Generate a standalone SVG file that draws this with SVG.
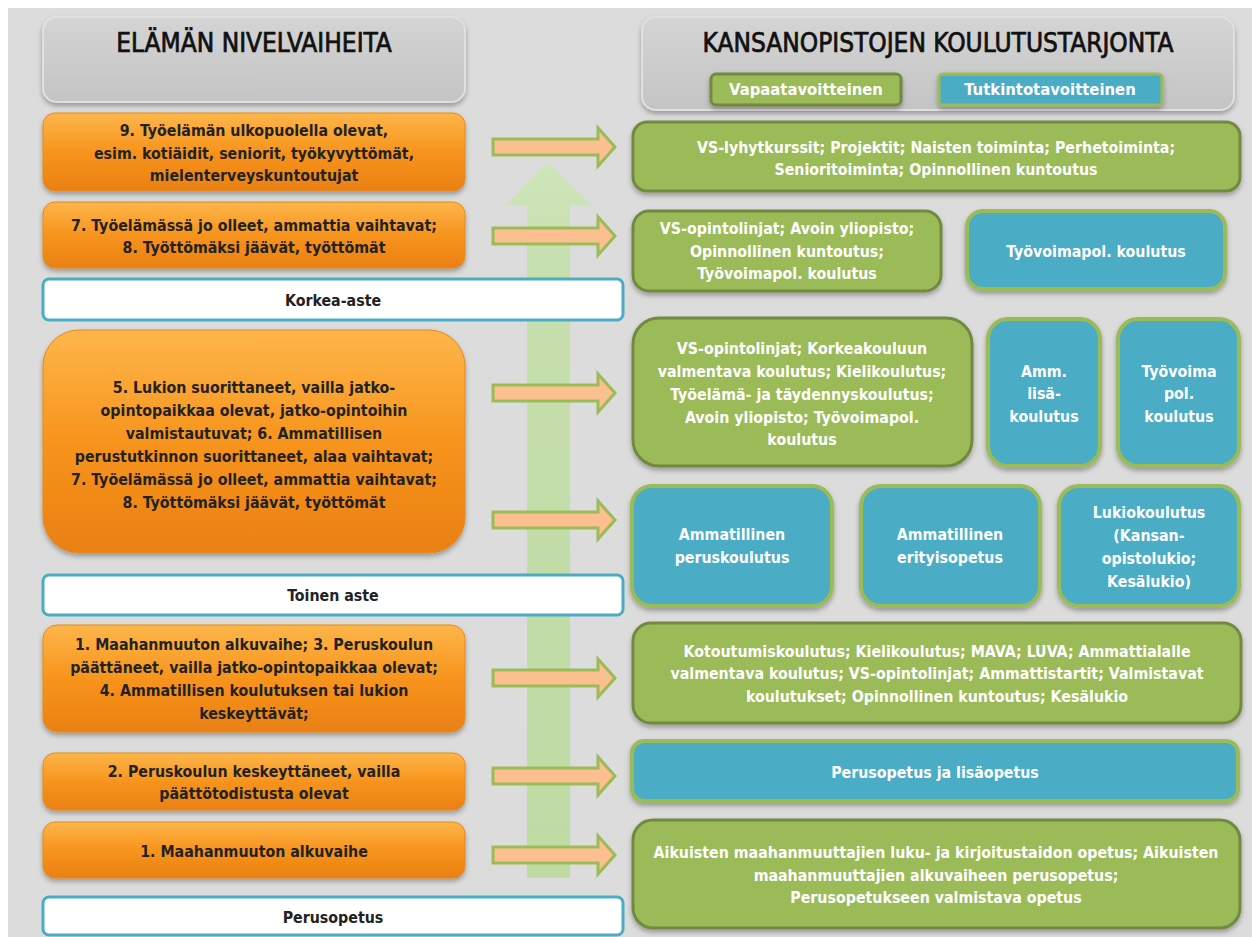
<svg xmlns="http://www.w3.org/2000/svg" width="1252" height="937" viewBox="0 0 1252 937">
<defs>
<linearGradient id="gOr" x1="0" y1="0" x2="0" y2="1">
<stop offset="0" stop-color="#fdb64a"/><stop offset="0.5" stop-color="#f7941d"/><stop offset="1" stop-color="#ea8012"/>
</linearGradient>
<linearGradient id="gHd" x1="0" y1="0" x2="0" y2="1">
<stop offset="0" stop-color="#d4d4d4"/><stop offset="1" stop-color="#c4c4c4"/>
</linearGradient>
<linearGradient id="gBig" x1="0" y1="0" x2="0" y2="1">
<stop offset="0" stop-color="#cfe5bb"/><stop offset="0.15" stop-color="#c6dfae"/><stop offset="1" stop-color="#bfdaa3"/>
</linearGradient>
<filter id="sh" x="-5%" y="-10%" width="110%" height="130%">
<feDropShadow dx="0" dy="3" stdDeviation="2.5" flood-color="#000" flood-opacity="0.3"/>
</filter>
<path id="arr" d="M493,-8 H598 V-19 L615,0 L598,19 V8 H493 Z"/>
<style>
text{font-family:"Liberation Sans Narrow","DejaVu Sans Condensed","Liberation Sans",sans-serif;font-weight:bold;text-anchor:middle;}
.t{font-size:15.8px;}
.dk{fill:#222;}
.wt{fill:#fff;}
.hd{font-size:26px;font-weight:normal;fill:#111;stroke:#111;stroke-width:0.7;}
.or{fill:url(#gOr);stroke:#e58a1c;stroke-width:1;filter:url(#sh);}
.gr{fill:#9bbb59;stroke:#71893f;stroke-width:3;filter:url(#sh);}
.bl{fill:#4bacc6;stroke:#9bbb59;stroke-width:4;filter:url(#sh);}
.wb{fill:#fff;stroke:#4bacc6;stroke-width:3;}
.head{fill:url(#gHd);stroke:#e0e0e0;stroke-width:2;filter:url(#sh);}
.sa{fill:#fbbf90;stroke:#9bbb59;stroke-width:3;}
</style>
</defs>
<rect x="0" y="0" width="1252" height="937" fill="#fff"/>
<rect x="8" y="8" width="1244" height="929" fill="#dcdcdc"/>

<g id="bigArrow">
<path d="M548,162 L591,205 H570 V878 H527 V205 H506 Z" fill="url(#gBig)"/>
</g>

<g id="hdrLeft">
<rect class="head" x="43" y="17" width="422" height="85" rx="14"/>
<text class="hd" x="254" y="52">ELÄMÄN NIVELVAIHEITA</text>
</g>
<g id="hdrRight">
<rect class="head" x="642" y="17" width="592" height="93" rx="14"/>
<text class="hd" x="938" y="52">KANSANOPISTOJEN KOULUTUSTARJONTA</text>
<g id="legendVapaa">
<rect x="711" y="74" width="190" height="31" rx="5" fill="#9bbb59" stroke="#71893f" stroke-width="3" filter="url(#sh)"/>
<text class="t wt" x="806" y="95" style="font-size:16.5px">Vapaatavoitteinen</text>
</g>
<g id="legendTutkinto">
<rect x="939" y="74" width="223" height="31" rx="4" fill="#4bacc6" stroke="#9bbb59" stroke-width="3" filter="url(#sh)"/>
<text class="t wt" x="1050" y="95" style="font-size:16.5px">Tutkintotavoitteinen</text>
</g>
</g>

<g id="o9">
<rect class="or" x="43" y="113" width="422" height="78" rx="12"/>
<text class="t dk" x="254" y="136">9. Työelämän ulkopuolella olevat,</text>
<text class="t dk" x="254" y="159">esim. kotiäidit, seniorit, työkyvyttömät,</text>
<text class="t dk" x="254" y="181">mielenterveyskuntoutujat</text>
</g>
<g id="o78">
<rect class="or" x="43" y="202" width="422" height="66" rx="12"/>
<text class="t dk" x="254" y="231">7. Työelämässä jo olleet, ammattia vaihtavat;</text>
<text class="t dk" x="254" y="253">8. Työttömäksi jäävät, työttömät</text>
</g>
<g id="korkea">
<rect class="wb" x="43" y="279" width="580" height="41" rx="6"/>
<text class="t dk" x="333" y="306">Korkea-aste</text>
</g>
<g id="o5678">
<rect class="or" x="43" y="330" width="422" height="223" rx="36"/>
<text class="t dk" x="254" y="393">5. Lukion suorittaneet, vailla jatko-</text>
<text class="t dk" x="254" y="416">opintopaikkaa olevat, jatko-opintoihin</text>
<text class="t dk" x="254" y="439">valmistautuvat; 6. Ammatillisen</text>
<text class="t dk" x="254" y="462">perustutkinnon suorittaneet, alaa vaihtavat;</text>
<text class="t dk" x="254" y="485">7. Työelämässä jo olleet, ammattia vaihtavat;</text>
<text class="t dk" x="254" y="508">8. Työttömäksi jäävät, työttömät</text>
</g>
<g id="toinen">
<rect class="wb" x="43" y="575" width="580" height="40" rx="6"/>
<text class="t dk" x="333" y="601">Toinen aste</text>
</g>
<g id="o134">
<rect class="or" x="43" y="625" width="422" height="107" rx="14"/>
<text class="t dk" x="254" y="650">1. Maahanmuuton alkuvaihe;  3. Peruskoulun</text>
<text class="t dk" x="254" y="673">päättäneet, vailla jatko-opintopaikkaa olevat;</text>
<text class="t dk" x="254" y="696">4. Ammatillisen koulutuksen tai lukion</text>
<text class="t dk" x="254" y="719">keskeyttävät;</text>
</g>
<g id="o2">
<rect class="or" x="43" y="753" width="422" height="57" rx="12"/>
<text class="t dk" x="254" y="777">2. Peruskoulun keskeyttäneet, vailla</text>
<text class="t dk" x="254" y="799">päättötodistusta olevat</text>
</g>
<g id="o1">
<rect class="or" x="43" y="822" width="422" height="56" rx="12"/>
<text class="t dk" x="254" y="857">1. Maahanmuuton alkuvaihe</text>
</g>
<g id="perus">
<rect class="wb" x="43" y="897" width="580" height="38" rx="6"/>
<text class="t dk" x="333" y="923">Perusopetus</text>
</g>

<g id="g1">
<rect class="gr" x="633" y="122" width="607" height="69" rx="14"/>
<text class="t wt" x="936" y="153">VS-lyhytkurssit; Projektit; Naisten toiminta; Perhetoiminta;</text>
<text class="t wt" x="936" y="175">Senioritoiminta; Opinnollinen kuntoutus</text>
</g>
<g id="g2">
<rect class="gr" x="633" y="211" width="308" height="80" rx="16"/>
<text class="t wt" x="787" y="234">VS-opintolinjat; Avoin yliopisto;</text>
<text class="t wt" x="787" y="257">Opinnollinen kuntoutus;</text>
<text class="t wt" x="787" y="279">Työvoimapol. koulutus</text>
</g>
<g id="b1">
<rect class="bl" x="967" y="211" width="258" height="78" rx="16"/>
<text class="t wt" x="1096" y="257">Työvoimapol. koulutus</text>
</g>
<g id="g3">
<rect class="gr" x="633" y="318" width="339" height="148" rx="26"/>
<text class="t wt" x="802" y="354">VS-opintolinjat; Korkeakouluun</text>
<text class="t wt" x="802" y="377">valmentava koulutus;  Kielikoulutus;</text>
<text class="t wt" x="802" y="400">Työelämä- ja täydennyskoulutus;</text>
<text class="t wt" x="802" y="423">Avoin yliopisto; Työvoimapol.</text>
<text class="t wt" x="802" y="445">koulutus</text>
</g>
<g id="bAmm">
<rect class="bl" x="988" y="319" width="112" height="147" rx="20"/>
<text class="t wt" x="1044" y="377">Amm.</text>
<text class="t wt" x="1044" y="399">lisä-</text>
<text class="t wt" x="1044" y="422">koulutus</text>
</g>
<g id="bTyo">
<rect class="bl" x="1118" y="319" width="121" height="147" rx="20"/>
<text class="t wt" x="1179" y="377">Työvoima</text>
<text class="t wt" x="1179" y="399">pol.</text>
<text class="t wt" x="1179" y="422">koulutus</text>
</g>
<g id="bPerus">
<rect class="bl" x="632" y="486" width="200" height="120" rx="20"/>
<text class="t wt" x="732" y="540">Ammatillinen</text>
<text class="t wt" x="732" y="563">peruskoulutus</text>
</g>
<g id="bErit">
<rect class="bl" x="861" y="486" width="179" height="120" rx="20"/>
<text class="t wt" x="950" y="540">Ammatillinen</text>
<text class="t wt" x="950" y="563">erityisopetus</text>
</g>
<g id="bLukio">
<rect class="bl" x="1059" y="486" width="180" height="120" rx="20"/>
<text class="t wt" x="1149" y="518">Lukiokoulutus</text>
<text class="t wt" x="1149" y="541">(Kansan-</text>
<text class="t wt" x="1149" y="564">opistolukio;</text>
<text class="t wt" x="1149" y="587">Kesälukio)</text>
</g>
<g id="g4">
<rect class="gr" x="633" y="623" width="608" height="100" rx="18"/>
<text class="t wt" x="937" y="657">Kotoutumiskoulutus; Kielikoulutus; MAVA; LUVA; Ammattialalle</text>
<text class="t wt" x="937" y="679">valmentava koulutus; VS-opintolinjat; Ammattistartit; Valmistavat</text>
<text class="t wt" x="937" y="702">koulutukset; Opinnollinen kuntoutus; Kesälukio</text>
</g>
<g id="b5">
<rect class="bl" x="632" y="741" width="606" height="60" rx="12"/>
<text class="t wt" x="935" y="778">Perusopetus ja lisäopetus</text>
</g>
<g id="g6">
<rect class="gr" x="633" y="820" width="607" height="108" rx="20"/>
<text class="t wt" x="936" y="858">Aikuisten maahanmuuttajien luku- ja  kirjoitustaidon opetus; Aikuisten</text>
<text class="t wt" x="936" y="881">maahanmuuttajien alkuvaiheen perusopetus;</text>
<text class="t wt" x="936" y="903">Perusopetukseen valmistava opetus</text>
</g>

<g id="connectors">
<use href="#arr" class="sa" y="147"/>
<use href="#arr" class="sa" y="236"/>
<use href="#arr" class="sa" y="393"/>
<use href="#arr" class="sa" y="520"/>
<use href="#arr" class="sa" y="678"/>
<use href="#arr" class="sa" y="776"/>
<use href="#arr" class="sa" y="855"/>
</g>
</svg>
